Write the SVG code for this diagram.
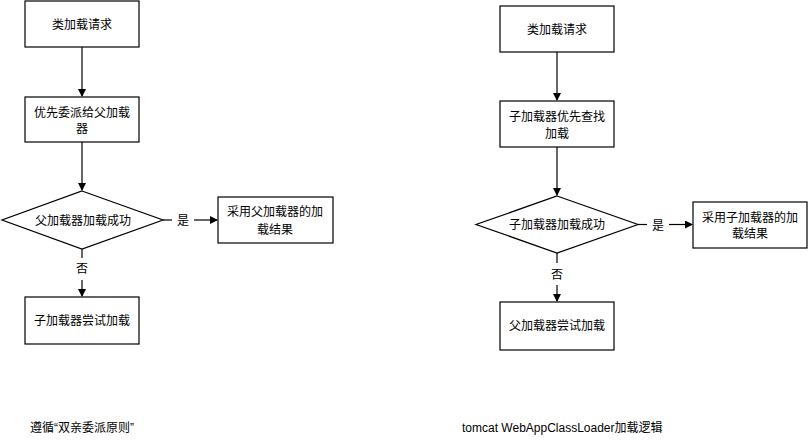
<svg xmlns="http://www.w3.org/2000/svg" width="808" height="441" viewBox="0 0 808 441">
  <style>
    .box { fill: #ffffff; stroke: #000000; stroke-width: 1.2; }
    .edge { fill: none; stroke: #000000; stroke-width: 1.2; }
    text { font-family: "Liberation Sans", "Noto Sans CJK SC", sans-serif; font-size: 12px; fill: #000000; }
    .c { text-anchor: middle; }
    .cap { font-size: 12px; }
  </style>
  <defs>
    <marker id="arrow" markerWidth="8" markerHeight="8" refX="7" refY="4" orient="auto" markerUnits="userSpaceOnUse">
      <path d="M0,0 L8,4 L0,8 Z" fill="#000000"/>
    </marker>
  </defs>
  <rect width="808" height="441" fill="#ffffff"/>

  <!-- left flow: parent-first delegation -->
  <g id="l-request">
    <rect class="box" x="25" y="1" width="114" height="46"/>
    <text class="c" x="82" y="29">类加载请求</text>
  </g>
  <g id="l-delegate">
    <rect class="box" x="25" y="97" width="114" height="45"/>
    <text class="c" x="82" y="117">优先委派给父加载</text>
    <text class="c" x="82" y="133">器</text>
  </g>
  <g id="l-decision">
    <polygon class="box" points="82,191 163,220 82,249 2,220"/>
    <text class="c" x="83" y="225">父加载器加载成功</text>
  </g>
  <g id="l-parent-result">
    <rect class="box" x="218" y="197" width="115" height="46"/>
    <text class="c" x="275" y="216">采用父加载器的加</text>
    <text class="c" x="275" y="234">载结果</text>
  </g>
  <g id="l-child-load">
    <rect class="box" x="25" y="297" width="114" height="47"/>
    <text class="c" x="82" y="325">子加载器尝试加载</text>
  </g>

  <!-- right flow: tomcat WebAppClassLoader -->
  <g id="r-request">
    <rect class="box" x="500" y="6" width="114" height="46"/>
    <text class="c" x="557" y="34">类加载请求</text>
  </g>
  <g id="r-child-first">
    <rect class="box" x="500" y="101" width="114" height="46"/>
    <text class="c" x="557" y="121">子加载器优先查找</text>
    <text class="c" x="557" y="138">加载</text>
  </g>
  <g id="r-decision">
    <polygon class="box" points="557,196 638,224.5 557,253 476,224.5"/>
    <text class="c" x="557" y="229">子加载器加载成功</text>
  </g>
  <g id="r-child-result">
    <rect class="box" x="693" y="202" width="114" height="46"/>
    <text class="c" x="750" y="222">采用子加载器的加</text>
    <text class="c" x="750" y="238">载结果</text>
  </g>
  <g id="r-parent-load">
    <rect class="box" x="500" y="302" width="114" height="48"/>
    <text class="c" x="557" y="330">父加载器尝试加载</text>
  </g>

  <g id="connectors">
    <!-- left -->
    <line class="edge" x1="82" y1="47" x2="82" y2="96" marker-end="url(#arrow)"/>
    <line class="edge" x1="82" y1="142" x2="82" y2="190" marker-end="url(#arrow)"/>
    <line class="edge" x1="163" y1="220" x2="172" y2="220"/>
    <line class="edge" x1="194" y1="220" x2="217" y2="220" marker-end="url(#arrow)"/>
    <text class="c" x="183" y="225">是</text>
    <line class="edge" x1="82" y1="249" x2="82" y2="258"/>
    <line class="edge" x1="82" y1="280" x2="82" y2="296" marker-end="url(#arrow)"/>
    <text class="c" x="82" y="273">否</text>
    <!-- right -->
    <line class="edge" x1="557" y1="52" x2="557" y2="100" marker-end="url(#arrow)"/>
    <line class="edge" x1="557" y1="147" x2="557" y2="195" marker-end="url(#arrow)"/>
    <line class="edge" x1="638" y1="224.5" x2="647" y2="224.5"/>
    <line class="edge" x1="669" y1="224.5" x2="692" y2="224.5" marker-end="url(#arrow)"/>
    <text class="c" x="658" y="230">是</text>
    <line class="edge" x1="557" y1="253" x2="557" y2="263"/>
    <line class="edge" x1="557" y1="285" x2="557" y2="301" marker-end="url(#arrow)"/>
    <text class="c" x="557" y="279">否</text>
  </g>

  <text class="cap" x="30" y="432">遵循“双亲委派原则”</text>
  <text class="cap" x="462" y="432">tomcat WebAppClassLoader加载逻辑</text>
</svg>
